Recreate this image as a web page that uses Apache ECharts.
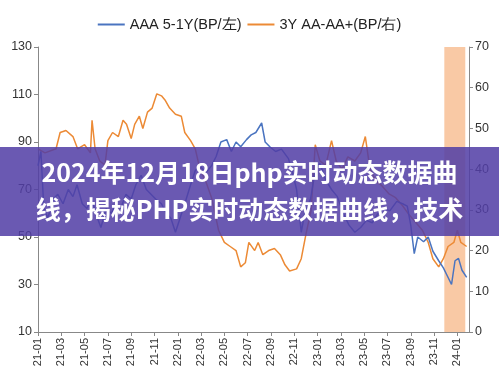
<!DOCTYPE html>
<html><head><meta charset="utf-8">
<script src="https://cdn.jsdelivr.net/npm/echarts@6/dist/echarts.min.js"></script>
<style>html,body{margin:0;padding:0;background:#fff}#c{width:499px;height:384px}</style>
</head><body><div id="c"></div>
<script>
// x tick labels (every 2 months, month index 0 = 21-01)
var tickLabels = ['21-01','21-03','21-05','21-07','21-09','21-11','22-01','22-03','22-05','22-07','22-09','22-11','23-01','23-03','23-05','23-07','23-09','23-11','24-01'];
var seriesNames = ['AAA 5-1Y(BP/左)', '3Y AA-AA+(BP/右)'];
var titleLines = ['2024年12月18日php实时动态数据曲', '线，揭秘PHP实时动态数据曲线，技术'];

// AAA 5-1Y, left axis (month index, BP)
var blueMonths = [0,0.25,0.5,0.85,1.3,1.7,2.15,2.6,3.0,3.35,3.8,4.2,4.6,5.1,5.4,5.85,6.3,6.7,7.1,7.55,8.0,8.4,8.85,9.3,9.7,10.1,10.6,11.0,11.4,11.8,12.2,12.6,13.1,13.5,13.9,14.4,14.9,15.3,15.7,16.2,16.6,17.0,17.4,17.9,18.3,18.7,19.2,19.5,19.9,20.4,20.9,21.5,21.8,22.2,22.6,22.9,23.4,23.8,24.2,24.7,25.2,25.7,26.2,26.7,27.2,27.7,28.2,28.7,29.2,29.7,30.2,30.8,31.3,31.7,32.0,32.3,32.6,33.1,33.5,33.9,34.4,34.8,35.1,35.5,35.8,36.1,36.4,36.8];
var blueValues = [80,86,62,58,66,68,64,70,67,72,64,62,66,58,54,62,60,64,62,68,66,72,76,70,68,66,64,60,58,52,58,64,72,78,80,77,80,84,90,91,86,90,88,91,93,94,98,90,88,86,87,83,78,70,52,60,66,78,81,74,70,67,60,55,52,54,57,56,60,62,61,65,64,63,55,43,50,48,50,44,40,37,34,30,40,41,36,33];

// 3Y AA-AA+, right axis (month index, BP)
var orangeMonths = [0,0.6,1.55,1.9,2.4,3.0,3.4,4.0,4.5,4.64,4.9,5.3,5.75,6.0,6.4,6.9,7.3,7.6,8.0,8.3,8.7,9.0,9.4,9.8,10.2,10.6,10.9,11.3,11.8,12.3,12.6,13.1,13.5,13.9,14.4,14.9,15.5,16.0,16.5,17.0,17.4,17.8,18.1,18.6,18.9,19.3,19.8,20.3,20.8,21.2,21.6,22.2,22.6,23.0,23.45,23.8,24.2,24.7,25.2,25.6,26.1,26.6,27.2,27.7,28.1,28.5,29.0,29.5,30.1,30.7,31.3,31.8,32.4,33.0,33.5,33.9,34.4,34.8,35.2,35.7,36.0,36.3,36.8];
var orangeValues = [45,44,45,49,49.5,48,45,46,44,52,45,42,41,47,49,48,52,51,47.5,51,53,50,54,55,58.5,58,57,55,53.5,53,49,47,45,40,37,33,25,22,21,20,16,17,22,20,22,19,20,20.5,19,16.5,15,15.5,18,24,30,46,42,41,47,42,40,43,42,44,48,40,37,36,34,33,31,29,27,25,22,18,16,18,21,22,25,22,21];

// shaded period (month index)
var shadeStart = 34.88, shadeEnd = 36.68;

function zip(a, b){ return a.map(function(v,i){ return [v, b[i]]; }); }

var chart = echarts.init(document.getElementById('c'), null, {renderer:'canvas'});
var font = 'Liberation Sans, Arial, Helvetica, sans-serif';
chart.setOption({
  animation: false,
  backgroundColor: '#fff',
  legend: {
    top: 12, left: 'center', itemGap: 6, itemWidth: 27, itemHeight: 2, icon: 'rect',
    textStyle: {fontFamily: font, fontSize: 14.5, color: '#222'},
    data: seriesNames
  },
  grid: {left: 38, right: 30, top: 47, bottom: 52, containLabel: false},
  xAxis: {
    type: 'value', min: 0, max: 37, interval: 2,
    splitLine: {show: false},
    axisLine: {lineStyle: {color: '#888'}},
    axisTick: {show: true, length: 4, lineStyle: {color: '#888'}},
    axisLabel: {
      rotate: 90, fontFamily: font, fontSize: 11, color: '#333', margin: 6,
      showMaxLabel: false,
      formatter: function(v){ return (v % 2 === 0) ? (tickLabels[v/2] || '') : ''; }
    }
  },
  yAxis: [
    {type: 'value', min: 10, max: 130, interval: 20, position: 'left',
     splitLine: {show: false},
     axisLine: {show: true, lineStyle: {color: '#888'}},
     axisTick: {show: true, length: 4, lineStyle: {color: '#888'}},
     axisLabel: {fontFamily: font, fontSize: 12.5, color: '#333', margin: 6}},
    {type: 'value', min: 0, max: 70, interval: 10, position: 'right',
     splitLine: {show: false},
     axisLine: {show: true, lineStyle: {color: '#888'}},
     axisTick: {show: true, length: 4, lineStyle: {color: '#888'}},
     axisLabel: {fontFamily: font, fontSize: 12.5, color: '#333', margin: 6}}
  ],
  series: [
    {name: seriesNames[0], type: 'line', yAxisIndex: 0, showSymbol: false, symbol: 'none',
     color: '#4a74c0', lineStyle: {width: 1.5, color: '#4a74c0'},
     data: zip(blueMonths, blueValues), z: 3},
    {name: seriesNames[1], type: 'line', yAxisIndex: 1, showSymbol: false, symbol: 'none',
     color: '#ec8a35', lineStyle: {width: 1.5, color: '#ec8a35'},
     data: zip(orangeMonths, orangeValues), z: 2},
    {name: 'shade', type: 'line', yAxisIndex: 0, data: [], z: 5, silent: true,
     markArea: {silent: true, itemStyle: {color: 'rgba(246,168,110,0.62)'},
       data: [[{xAxis: shadeStart}, {xAxis: shadeEnd}]]}}
  ],
  graphic: [
    {type: 'rect', left: 0, top: 147, z: 100, shape: {width: 499, height: 89},
     style: {fill: 'rgba(82,62,165,0.86)'}},
    {type: 'text', left: 'center', top: 160, z: 101,
     style: {text: titleLines[0], fill: '#fff', font: 'bold 25px "Noto Sans CJK SC", sans-serif'}},
    {type: 'text', left: 'center', top: 197, z: 101,
     style: {text: titleLines[1], fill: '#fff', font: 'bold 25px "Noto Sans CJK SC", sans-serif'}}
  ]
});
</script></body></html>
